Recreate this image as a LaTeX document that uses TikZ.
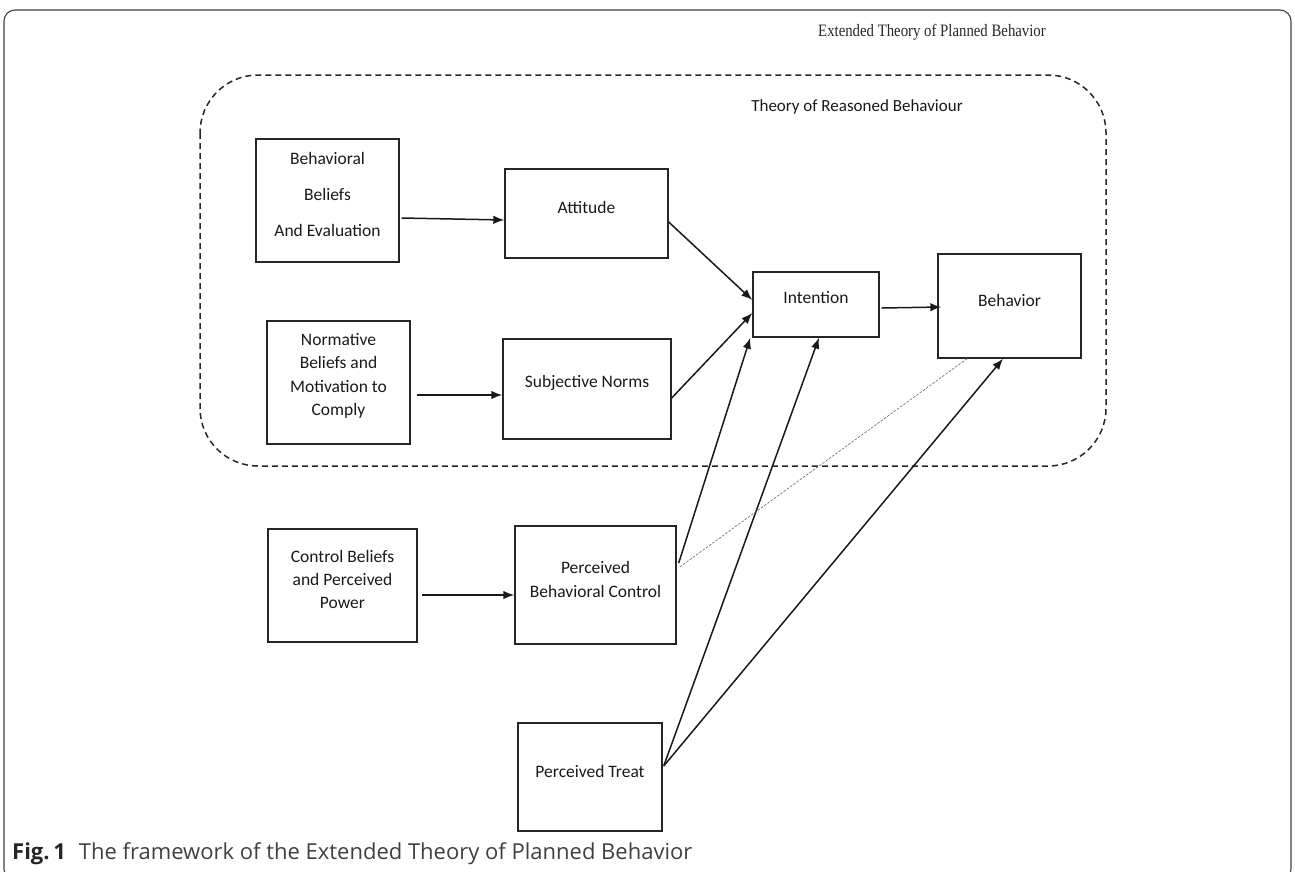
\documentclass[tikz,border=0pt]{standalone}
\usepackage{fontspec}
\setmainfont{Carlito}
\newfontfamily\serifx{Liberation Serif}
\newfontfamily\capfont{Open Sans}
\usetikzlibrary{arrows.meta,calc}
\begin{document}
\begin{tikzpicture}[x=1pt,y=-1pt,
  box/.style={draw=black!85,line width=1.4pt,inner sep=0pt,rectangle},
  lbl/.style={font=\fontsize{17.5}{21}\selectfont,text=black!90,align=center,inner sep=0pt},
  arr/.style={draw=black!90,line width=1.5pt,-{Latex[length=11pt,width=8.5pt]}},
  frame/.style={draw=black!75,line width=1.1pt,rounded corners=11pt},
  group/.style={draw=black!85,line width=1.5pt,dash pattern=on 6pt off 4pt,rounded corners=58pt},
  thin/.style={draw=black!55,line width=0.7pt,dash pattern=on 2.5pt off 1.5pt}
]
\useasboundingbox (0,0) rectangle (1295,871);
\begin{scope}
\clip (0,0) rectangle (1295,871);
\draw[frame] (4,10) rectangle (1291,880);
\end{scope}
\draw[group] (200,75) rectangle (1106,466);

\node[text=black!85,inner sep=0pt] (etpb) at (932,32) {\serifx\fontsize{17.4}{20}\selectfont\scalebox{0.85}[1]{Extended Theory of Planned Behavior}};
\node[lbl,font=\fontsize{17}{20}\selectfont] (trb) at (857,107) {Theory of Reasoned Behaviour};

% boxes
\node[box,minimum width=143pt,minimum height=123pt] (bb) at (327.5,200.5) {};
\node[box,minimum width=163pt,minimum height=89pt] (att) at (586.5,213.5) {};
\node[box,minimum width=126pt,minimum height=65pt] (int) at (816,304.5) {};
\node[box,minimum width=143pt,minimum height=104pt] (beh) at (1009.5,306) {};
\node[box,minimum width=143pt,minimum height=123pt] (nb) at (338.5,382.5) {};
\node[box,minimum width=168pt,minimum height=100pt] (sn) at (587,389) {};
\node[box,minimum width=149pt,minimum height=113pt] (cb) at (342.5,585.5) {};
\node[box,minimum width=161pt,minimum height=118pt] (pbc) at (595.5,585) {};
\node[box,minimum width=144pt,minimum height=108pt] (pt) at (590,777) {};

% texts
\node[lbl,font=\fontsize{17.5}{36}\selectfont] (bbt) at (327.5,194) {Behavioral\\Beliefs\\And Evaluation};
\node[lbl] (attt) at (586.5,207) {Attitude};
\node[lbl] (intt) at (816,298) {Intention};
\node[lbl] (beht) at (1009.5,300) {Behavior};
\node[lbl,font=\fontsize{17.5}{23.5}\selectfont] (nbt) at (338.5,376) {Normative\\Beliefs and\\Motivation to\\Comply};
\node[lbl] (snt) at (587,383) {Subjective Norms};
\node[lbl,font=\fontsize{17.5}{23}\selectfont] (cbt) at (342.5,579) {Control Beliefs\\and Perceived\\Power};
\node[lbl,font=\fontsize{17.5}{24}\selectfont] (pbct) at (595.5,579) {Perceived\\Behavioral Control};
\node[lbl] (ptt) at (590,771) {Perceived Treat};

% connectors
\draw[arr] ([xshift=2pt,yshift=-17.5pt]bb.east) -- ([yshift=-6.5pt]att.west);
\draw[arr] ([xshift=6pt,yshift=-12.5pt]nb.east) -- ([yshift=-6pt]sn.west);
\draw[arr] ([xshift=4pt,yshift=-9.5pt]cb.east) -- ([yshift=-10pt]pbc.west);
\draw[arr] ([yshift=-8.5pt]att.east) -- ([yshift=4.5pt]int.west);
\draw[arr] ([yshift=-9pt]sn.east) -- ([yshift=-8.5pt]int.west);
\draw[arr] ([xshift=2pt,yshift=22pt]pbc.east) -- ([xshift=-2pt]int.south west);
\draw[arr] ([xshift=1pt,yshift=11pt]pt.east) -- ([xshift=3pt]int.south);
\draw[arr] ([xshift=1pt,yshift=11pt]pt.east) -- ([xshift=-6.5pt]beh.south);
\draw[arr] ([xshift=2pt,yshift=-3.5pt]int.east) -- ([xshift=4pt,yshift=-1pt]beh.west);
\draw[thin] ([xshift=-42.5pt]beh.south) -- ([xshift=3pt,yshift=18pt]pbc.east);

% caption
\node[anchor=base west,inner sep=0pt,text=black!85] (cap) at (12,859) {\capfont\fontsize{22}{25}\selectfont\textbf{Fig.\,1}\hspace{13pt}{\color{black!75}The framework of the Extended Theory of Planned Behavior}};
\end{tikzpicture}
\end{document}
